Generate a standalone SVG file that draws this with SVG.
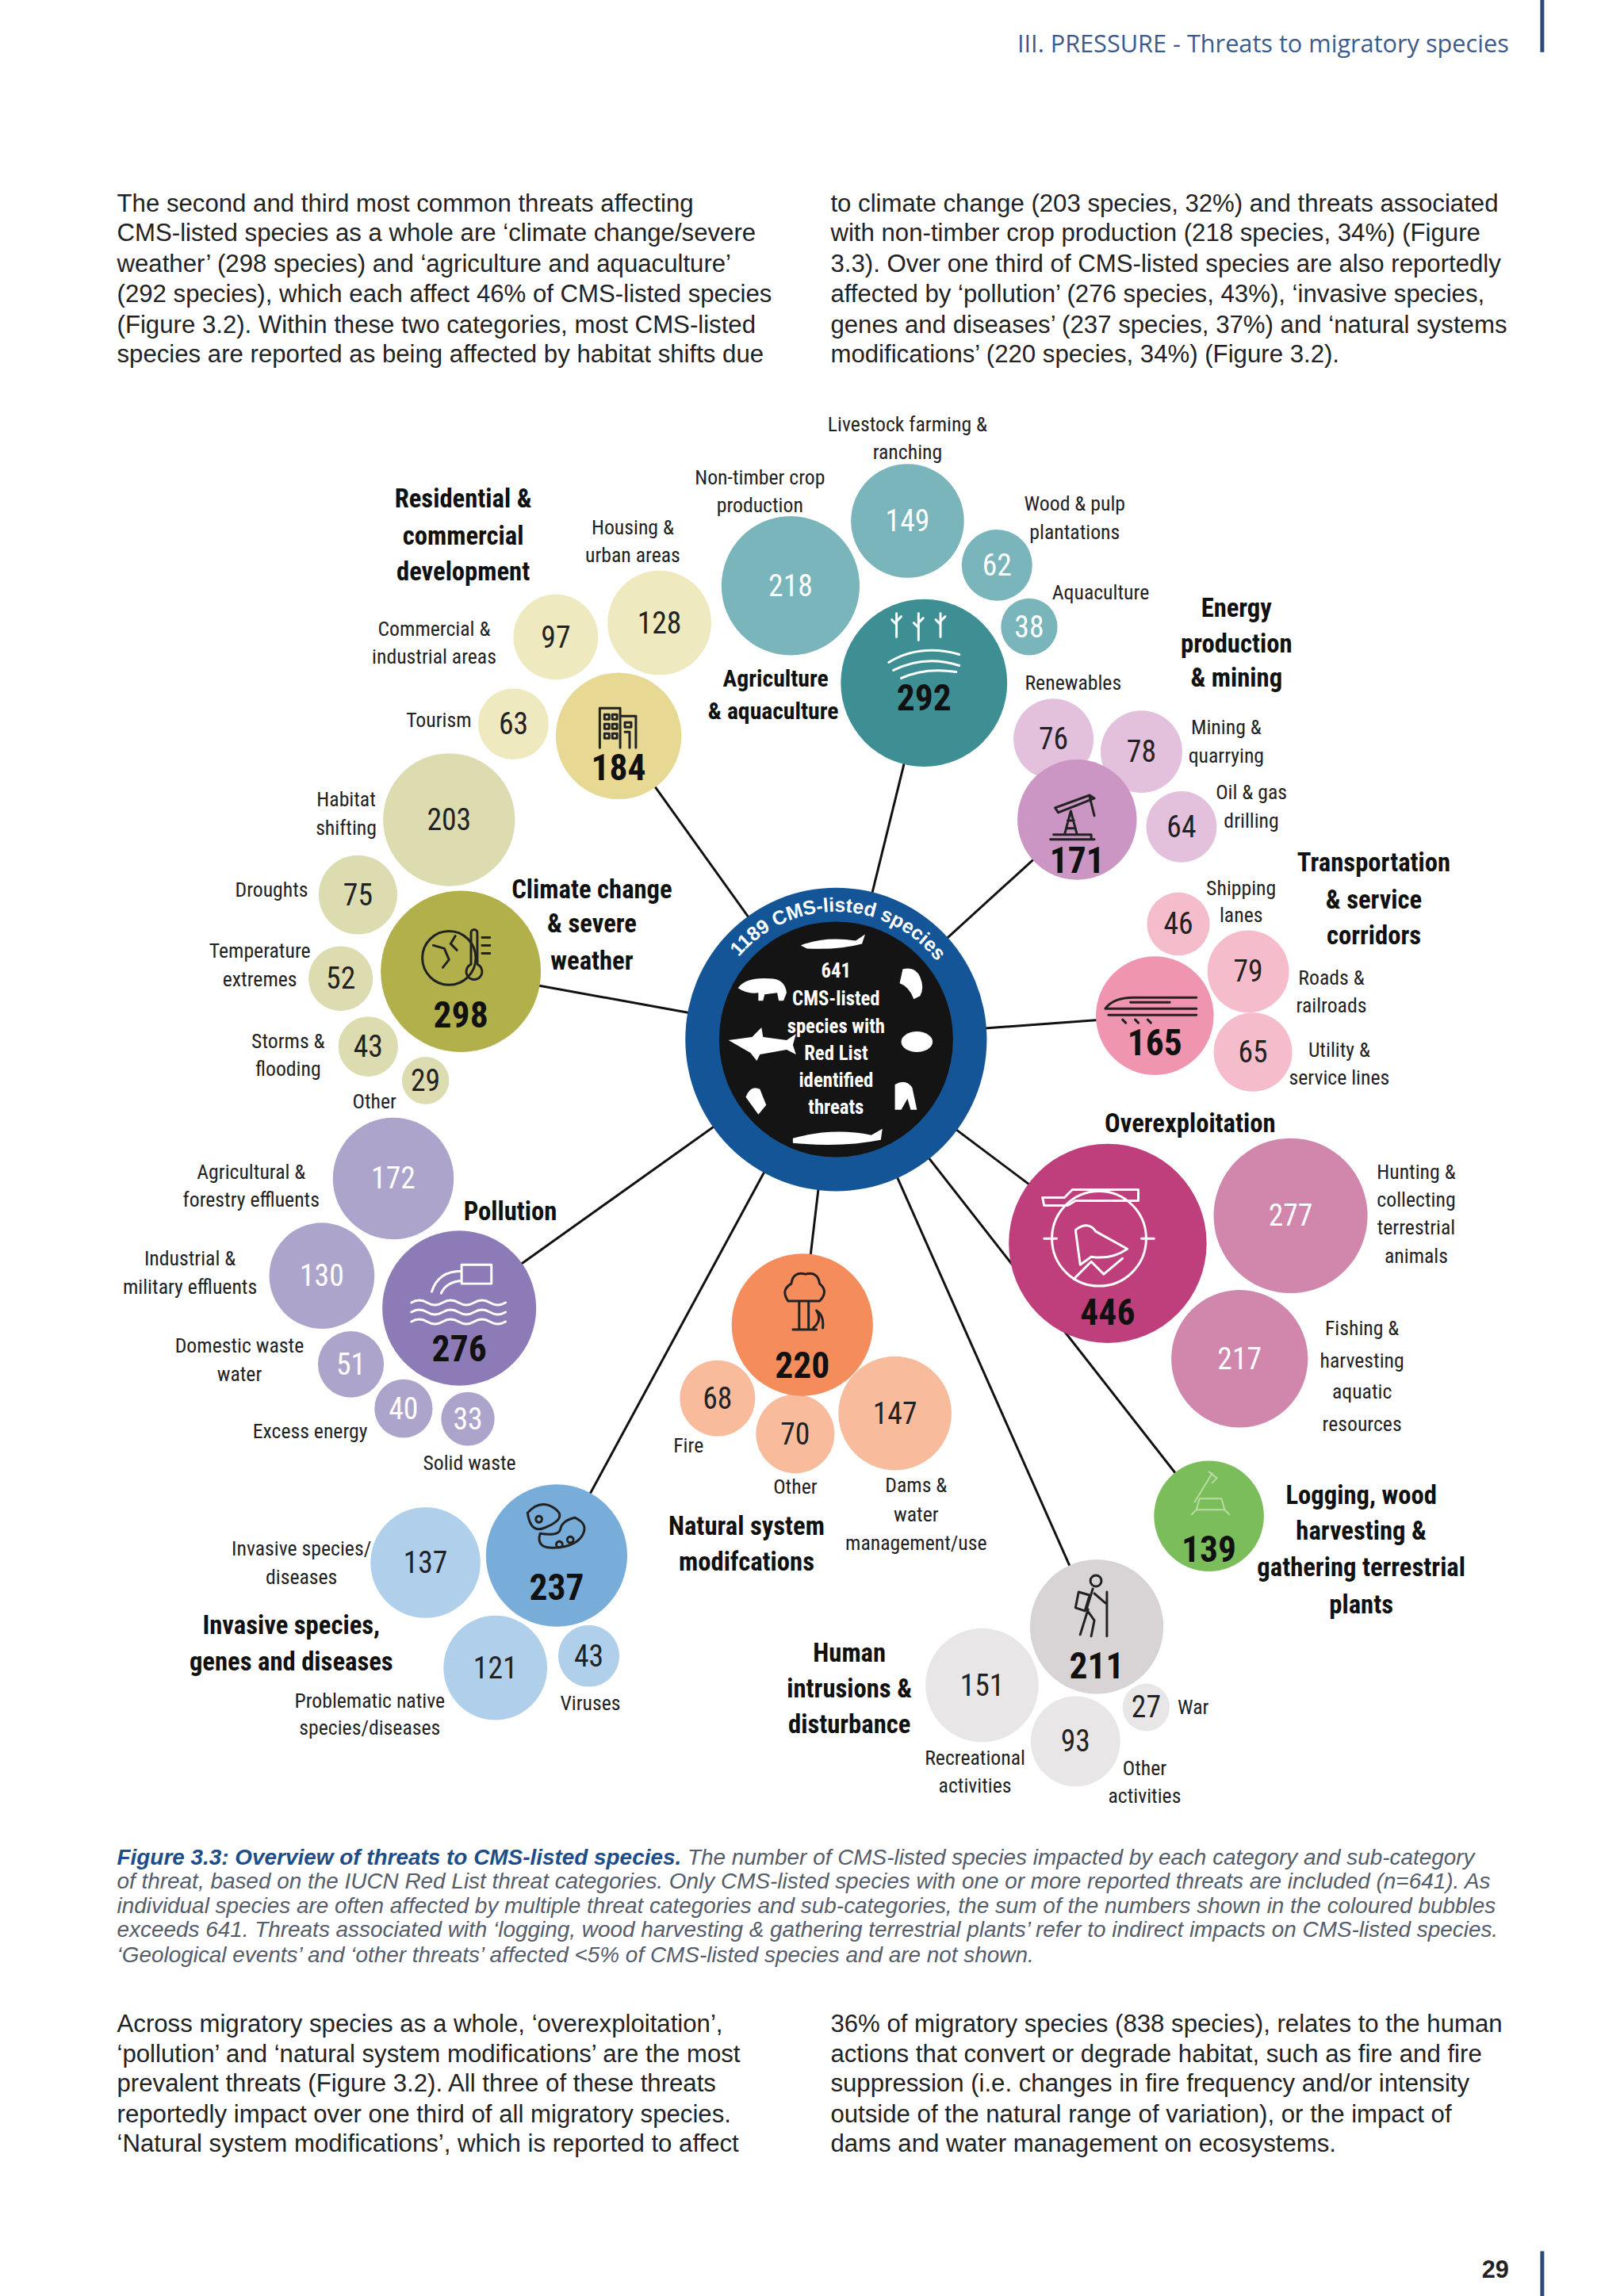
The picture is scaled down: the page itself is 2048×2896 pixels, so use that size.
<svg xmlns="http://www.w3.org/2000/svg" width="2048" height="2896" viewBox="0 0 2048 2896">
<style>
text{font-family:"Liberation Sans Narrow","Roboto Condensed",Roboto,"Liberation Sans",sans-serif}
.body{font-family:"Liberation Sans",Arial,sans-serif;font-size:31.5px;fill:#222}
.cap{font-family:"Liberation Sans",Arial,sans-serif;font-size:28.2px;font-style:italic;fill:#555d6b}
.t{font-size:33px;font-weight:bold;fill:#111;text-anchor:middle}
.l{font-size:26px;fill:#222;text-anchor:middle}
.n{font-size:38px;text-anchor:middle;fill:#222}
.w{fill:#fff}
.m{font-size:46px;font-weight:bold;text-anchor:middle;fill:#111}
.ic{fill:none;stroke:#222;stroke-width:3;stroke-linecap:round;stroke-linejoin:round}
.icw{fill:none;stroke:#fff;stroke-width:3;stroke-linecap:round;stroke-linejoin:round}
.con{stroke:#111;stroke-width:3;fill:none}
</style>
<rect width="2048" height="2896" fill="#fff"/>
<g transform="scale(0.99,0.997)">
<text x="1922" y="66" text-anchor="end" style="font-family:'Open Sans','Liberation Sans',sans-serif;font-size:31px;fill:#3d5a8c">III. PRESSURE - Threats to migratory species</text>
<rect x="1962" y="0" width="5" height="66" fill="#2c4a7c"/>
<text class="body"><tspan x="149" y="268">The second and third most common threats affecting</tspan><tspan x="149" y="305">CMS-listed species as a whole are ‘climate change/severe</tspan><tspan x="149" y="344">weather’ (298 species) and ‘agriculture and aquaculture’</tspan><tspan x="149" y="382">(292 species), which each affect 46% of CMS-listed species</tspan><tspan x="149" y="421">(Figure 3.2). Within these two categories, most CMS-listed</tspan><tspan x="149" y="458">species are reported as being affected by habitat shifts due</tspan></text>
<text class="body"><tspan x="1058" y="268">to climate change (203 species, 32%) and threats associated</tspan><tspan x="1058" y="305">with non-timber crop production (218 species, 34%) (Figure</tspan><tspan x="1058" y="344">3.3). Over one third of CMS-listed species are also reportedly</tspan><tspan x="1058" y="382">affected by ‘pollution’ (276 species, 43%), ‘invasive species,</tspan><tspan x="1058" y="421">genes and diseases’ (237 species, 37%) and ‘natural systems</tspan><tspan x="1058" y="458">modifications’ (220 species, 34%) (Figure 3.2).</tspan></text>

<g id="connectors" class="con">
<line x1="1065" y1="1315" x2="788" y2="931"/>
<line x1="1065" y1="1315" x2="1177" y2="864"/>
<line x1="1065" y1="1315" x2="1372" y2="1037"/>
<line x1="1065" y1="1315" x2="1471" y2="1285"/>
<line x1="1065" y1="1315" x2="1411" y2="1573"/>
<line x1="1065" y1="1315" x2="1540" y2="1918"/>
<line x1="1065" y1="1315" x2="1397" y2="2058"/>
<line x1="1065" y1="1315" x2="1022" y2="1676"/>
<line x1="1065" y1="1315" x2="709" y2="1968"/>
<line x1="1065" y1="1315" x2="585" y2="1655"/>
<line x1="1065" y1="1315" x2="587" y2="1229"/>
</g>

<g id="center">
<circle cx="1065" cy="1315" r="192" fill="#135596"/>
<circle cx="1065" cy="1315" r="149" fill="#141414"/>
<defs><path id="arc" d="M941 1211 A162 162 0 0 1 1205 1234"/></defs>
<text style="font-family:'Liberation Sans',Arial,sans-serif;font-size:25px;font-weight:bold;fill:#fff"><textPath href="#arc">1189 CMS-listed species</textPath></text>
<text style="font-size:25px;font-weight:bold;fill:#fff;text-anchor:middle"><tspan x="1065" y="1237">641</tspan><tspan x="1065" y="1272">CMS-listed</tspan><tspan x="1065" y="1307">species with</tspan><tspan x="1065" y="1341">Red List</tspan><tspan x="1065" y="1375">identified</tspan><tspan x="1065" y="1409">threats</tspan></text>
<g fill="#fff">
<path d="M1020 1196 q30 -12 70 -6 l12 -8 l-4 12 q-30 8 -70 6z"/>
<path d="M940 1250 q10 -14 40 -12 q20 0 22 18 l-4 10 h-6 l-2 -10 l-16 2 l-2 8 h-6 l0 -10 q-14 2 -26 -6z"/>
<path d="M1150 1226 q16 -4 22 10 q6 14 0 24 l-8 4 q-6 -16 -18 -20z"/>
<path d="M928 1316 l30 -4 l12 -12 l2 12 l30 4 l12 -8 l-4 14 l4 12 l-12 -6 l-34 6 l-4 8 l-8 -10z"/>
<ellipse cx="1168" cy="1318" rx="20" ry="13"/>
<path d="M950 1388 q6 -16 18 -10 l8 20 l-10 12z"/>
<path d="M1140 1372 q14 -8 22 4 l6 28 h-8 l-4 -14 l-8 14 h-8z"/>
<path d="M1010 1440 q50 -14 100 -4 l14 -8 l-2 14 q-50 10 -112 4z"/>
</g>
</g>

<g id="residential">
<circle cx="708" cy="806" r="54" fill="#efe9bf"/>
<circle cx="840" cy="788" r="66" fill="#efe9bf"/>
<circle cx="654" cy="916" r="45" fill="#efe9bf"/>
<circle cx="788" cy="931" r="80" fill="#e7d893"/>
<path class="ic" d="M764 946v-50h26v50M790 906h20v40M770 904h6v6h-6zM780 904h6v6h-6zM770 916h6v6h-6zM780 916h6v6h-6zM770 928h6v6h-6zM780 928h6v6h-6zM796 914h8v6h-8zM796 926h6v20"/>
<text class="m" x="788" y="987">184</text>
<text class="n" x="708" y="819">97</text><text class="n" x="840" y="801">128</text><text class="n" x="654" y="929">63</text>
<text class="t"><tspan x="590" y="642">Residential &amp;</tspan><tspan x="590" y="689">commercial</tspan><tspan x="590" y="734">development</tspan></text>
<text class="l"><tspan x="806" y="676">Housing &amp;</tspan><tspan x="806" y="711">urban areas</tspan></text>
<text class="l"><tspan x="553" y="804">Commercial &amp;</tspan><tspan x="553" y="840">industrial areas</tspan></text>
<text class="l" x="559" y="920">Tourism</text>
</g>

<g id="climate">
<circle cx="572" cy="1037" r="84" fill="#dcdcb0"/>
<circle cx="456" cy="1132" r="50" fill="#dcdcb0"/>
<circle cx="434" cy="1238" r="41" fill="#dcdcb0"/>
<circle cx="469" cy="1324" r="38" fill="#dcdcb0"/>
<circle cx="542" cy="1367" r="30" fill="#dcdcb0"/>
<circle cx="587" cy="1229" r="102" fill="#b2b04b"/>
<circle class="ic" cx="572" cy="1212" r="34"/>
<path class="ic" d="M600 1180v40a10 10 0 1 0 8 0v-40a4 4 0 0 0-8 0M614 1186h10M614 1196h10M614 1206h10M552 1196l14 4 6 14-8 10M580 1184l-6 10 8 8"/>
<text class="m" x="587" y="1300">298</text>
<text class="n" x="572" y="1050">203</text><text class="n" x="456" y="1145">75</text><text class="n" x="434" y="1251">52</text><text class="n" x="469" y="1337">43</text><text class="n" x="542" y="1380">29</text>
<text class="t"><tspan x="754" y="1136">Climate change</tspan><tspan x="754" y="1180">&amp; severe</tspan><tspan x="754" y="1227">weather</tspan></text>
<text class="l"><tspan x="441" y="1020">Habitat</tspan><tspan x="441" y="1056">shifting</tspan></text>
<text class="l" x="346" y="1134">Droughts</text>
<text class="l"><tspan x="331" y="1212">Temperature</tspan><tspan x="331" y="1248">extremes</tspan></text>
<text class="l"><tspan x="367" y="1326">Storms &amp;</tspan><tspan x="367" y="1361">flooding</tspan></text>
<text class="l" x="477" y="1402">Other</text>
</g>

<g id="agriculture">
<circle cx="1007" cy="741" r="88" fill="#79b5ba"/>
<circle cx="1156" cy="659" r="72" fill="#79b5ba"/>
<circle cx="1270" cy="715" r="45" fill="#79b5ba"/>
<circle cx="1311" cy="793" r="36" fill="#79b5ba"/>
<circle cx="1177" cy="864" r="106" fill="#3e8f94"/>
<path class="icw" d="M1132 838q40-24 90-10M1138 848q40-20 84-6M1148 858q30-14 70-8M1142 806v-30M1170 810v-34M1198 806v-30M1142 790l-6-6M1142 786l6-6M1170 794l-6-6M1170 788l6-6M1198 790l-6-6M1198 786l6-6"/>
<text class="m w" x="1177" y="899">292</text>
<text class="n w" x="1007" y="754">218</text><text class="n w" x="1156" y="672">149</text><text class="n w" x="1270" y="728">62</text><text class="n w" x="1311" y="806">38</text>
<text class="t" style="font-size:30px"><tspan x="988" y="869">Agriculture</tspan><tspan x="985" y="910">&amp; aquaculture</tspan></text>
<text class="l"><tspan x="968" y="613">Non-timber crop</tspan><tspan x="968" y="648">production</tspan></text>
<text class="l"><tspan x="1156" y="546">Livestock farming &amp;</tspan><tspan x="1156" y="581">ranching</tspan></text>
<text class="l"><tspan x="1369" y="646">Wood &amp; pulp</tspan><tspan x="1369" y="682">plantations</tspan></text>
<text class="l" x="1402" y="758">Aquaculture</text>
</g>

<g id="energy">
<circle cx="1342" cy="935" r="51" fill="#e3c0dc"/>
<circle cx="1454" cy="951" r="52" fill="#e3c0dc"/>
<circle cx="1505" cy="1046" r="45" fill="#e3c0dc"/>
<circle cx="1372" cy="1037" r="76" fill="#cc96c4"/>
<path class="ic" d="M1338 1062h56M1342 1056h48v6M1356 1056l8-30 8 30M1358 1048h12M1360 1038h8M1344 1022l44-16 6 4-46 18zM1388 1008l6 24"/>
<text class="m" x="1372" y="1104">171</text>
<text class="n" x="1342" y="948">76</text><text class="n" x="1454" y="964">78</text><text class="n" x="1505" y="1059">64</text>
<text class="t"><tspan x="1575" y="780">Energy</tspan><tspan x="1575" y="825">production</tspan><tspan x="1575" y="869">&amp; mining</tspan></text>
<text class="l" x="1367" y="873">Renewables</text>
<text class="l"><tspan x="1562" y="929">Mining &amp;</tspan><tspan x="1562" y="965">quarrying</tspan></text>
<text class="l"><tspan x="1594" y="1011">Oil &amp; gas</tspan><tspan x="1594" y="1047">drilling</tspan></text>
</g>

<g id="transport">
<circle cx="1501" cy="1169" r="40" fill="#f5bccc"/>
<circle cx="1590" cy="1229" r="52" fill="#f5bccc"/>
<circle cx="1596" cy="1331" r="50" fill="#f5bccc"/>
<circle cx="1471" cy="1285" r="75" fill="#ef95b0"/>
<path class="ic" d="M1408 1276q10-14 36-14h80M1408 1276h116M1412 1284h112M1440 1268h50M1430 1290l4 4M1446 1290l4 4M1462 1290l4 4"/>
<text class="m" x="1471" y="1335">165</text>
<text class="n" x="1501" y="1182">46</text><text class="n" x="1590" y="1242">79</text><text class="n" x="1596" y="1344">65</text>
<text class="t"><tspan x="1750" y="1102">Transportation</tspan><tspan x="1750" y="1149">&amp; service</tspan><tspan x="1750" y="1195">corridors</tspan></text>
<text class="l"><tspan x="1581" y="1132">Shipping</tspan><tspan x="1581" y="1167">lanes</tspan></text>
<text class="l"><tspan x="1696" y="1246">Roads &amp;</tspan><tspan x="1696" y="1281">railroads</tspan></text>
<text class="l"><tspan x="1706" y="1337">Utility &amp;</tspan><tspan x="1706" y="1372">service lines</tspan></text>
</g>

<g id="overexploitation">
<circle cx="1644" cy="1538" r="98" fill="#d186ac"/>
<circle cx="1579" cy="1719" r="87" fill="#d186ac"/>
<circle cx="1411" cy="1573" r="126" fill="#bf3f7c"/>
<circle class="icw" cx="1400" cy="1567" r="60"/>
<path class="icw" d="M1328 1515h28l10-10h84v14h-80l-10 6h-30zM1330 1567h16M1454 1567h16M1368 1618l22-22 16 16 24-20M1370 1556q16-12 26 2l40 22q-20 14-46 10l-14 10z"/>
<text class="m w" x="1411" y="1676">446</text>
<text class="n w" x="1644" y="1551">277</text><text class="n w" x="1579" y="1732">217</text>
<text class="t" x="1516" y="1432">Overexploitation</text>
<text class="l"><tspan x="1804" y="1491">Hunting &amp;</tspan><tspan x="1804" y="1527">collecting</tspan><tspan x="1804" y="1562">terrestrial</tspan><tspan x="1804" y="1598">animals</tspan></text>
<text class="l"><tspan x="1735" y="1689">Fishing &amp;</tspan><tspan x="1735" y="1730">harvesting</tspan><tspan x="1735" y="1769">aquatic</tspan><tspan x="1735" y="1810">resources</tspan></text>
</g>

<g id="logging">
<circle cx="1540" cy="1918" r="70" fill="#7cbd5b"/>
<path class="icw" style="stroke:#b8dca6;stroke-width:2" d="M1522 1900l22-36M1540 1862l10 8-6 6M1528 1896h28l4 14h-36zM1524 1910l-6 6M1560 1910l6 6"/>
<text class="m w" x="1540" y="1976">139</text>
<text class="t"><tspan x="1734" y="1903">Logging, wood</tspan><tspan x="1734" y="1948">harvesting &amp;</tspan><tspan x="1734" y="1994">gathering terrestrial</tspan><tspan x="1734" y="2041">plants</tspan></text>
</g>

<g id="human">
<circle cx="1251" cy="2132" r="72" fill="#e8e6e6"/>
<circle cx="1370" cy="2203" r="57" fill="#e8e6e6"/>
<circle cx="1460" cy="2160" r="30" fill="#e8e6e6"/>
<circle cx="1397" cy="2058" r="85" fill="#d8d3d4"/>
<circle class="ic" cx="1396" cy="2000" r="7"/>
<path class="ic" d="M1392 2010l-8 26 10 14-4 20M1386 2036l-10 32M1394 2016l14 12M1410 2014v56M1374 2014l14 4-6 20-12-4z"/>
<text class="m" x="1397" y="2123">211</text>
<text class="n" x="1251" y="2145">151</text><text class="n" x="1370" y="2216">93</text><text class="n" x="1460" y="2173">27</text>
<text class="t"><tspan x="1082" y="2102">Human</tspan><tspan x="1082" y="2147">intrusions &amp;</tspan><tspan x="1082" y="2193">disturbance</tspan></text>
<text class="l"><tspan x="1242" y="2233">Recreational</tspan><tspan x="1242" y="2268">activities</tspan></text>
<text class="l"><tspan x="1458" y="2246">Other</tspan><tspan x="1458" y="2281">activities</tspan></text>
<text class="l" x="1500" y="2169" style="text-anchor:start">War</text>
</g>

<g id="natural">
<circle cx="914" cy="1769" r="48" fill="#f8bc9c"/>
<circle cx="1140" cy="1788" r="72" fill="#f8bc9c"/>
<circle cx="1013" cy="1814" r="50" fill="#f8bc9c"/>
<circle cx="1022" cy="1676" r="90" fill="#f58c5c"/>
<path class="ic" d="M1004 1646q-10-14 4-22q2-16 18-12q16-4 18 12q12 10 0 22zM1018 1646v36M1030 1646v36M1010 1682h30M1036 1680q12-10 4-22q10 6 8 22"/>
<text class="m" x="1022" y="1743">220</text>
<text class="n" x="914" y="1782">68</text><text class="n" x="1140" y="1801">147</text><text class="n" x="1013" y="1827">70</text>
<text class="t"><tspan x="951" y="1942">Natural system</tspan><tspan x="951" y="1987">modifcations</tspan></text>
<text class="l" x="877" y="1838">Fire</text>
<text class="l" x="1013" y="1890">Other</text>
<text class="l"><tspan x="1167" y="1888">Dams &amp;</tspan><tspan x="1167" y="1925">water</tspan><tspan x="1167" y="1961">management/use</tspan></text>
</g>

<g id="pollution">
<circle cx="501" cy="1491" r="77" fill="#ada4cc"/>
<circle cx="410" cy="1614" r="67" fill="#ada4cc"/>
<circle cx="447" cy="1726" r="42" fill="#ada4cc"/>
<circle cx="514" cy="1782" r="37" fill="#ada4cc"/>
<circle cx="596" cy="1795" r="34" fill="#ada4cc"/>
<circle cx="585" cy="1655" r="98" fill="#8d7bb8"/>
<path class="icw" d="M588 1600h38v24h-38zM588 1608q-30 0-38 26M588 1620q-20 2-26 16M524 1648q10-6 20 0t20 0t20 0t20 0t20 0t20 0M524 1660q10-6 20 0t20 0t20 0t20 0t20 0t20 0M524 1672q10-6 20 0t20 0t20 0t20 0t20 0t20 0"/>
<text class="m w" x="585" y="1722">276</text>
<text class="n w" x="501" y="1504">172</text><text class="n w" x="410" y="1627">130</text><text class="n w" x="447" y="1739">51</text><text class="n w" x="514" y="1795">40</text><text class="n w" x="596" y="1808">33</text>
<text class="t" x="650" y="1544">Pollution</text>
<text class="l"><tspan x="320" y="1491">Agricultural &amp;</tspan><tspan x="320" y="1527">forestry effluents</tspan></text>
<text class="l"><tspan x="242" y="1601">Industrial &amp;</tspan><tspan x="242" y="1637">military effluents</tspan></text>
<text class="l"><tspan x="305" y="1711">Domestic waste</tspan><tspan x="305" y="1747">water</tspan></text>
<text class="l" x="395" y="1819">Excess energy</text>
<text class="l" x="598" y="1860">Solid waste</text>
</g>

<g id="invasive">
<circle cx="542" cy="1977" r="70" fill="#b0cfea"/>
<circle cx="631" cy="2110" r="66" fill="#b0cfea"/>
<circle cx="750" cy="2095" r="39" fill="#b0cfea"/>
<circle cx="709" cy="1968" r="90" fill="#78acd9"/>
<path class="ic" d="M672 1914q16-18 34-6t-10 24q-20 10-24-18zM688 1940q-6 20 20 18t34-16t-10-22q-16 4-18 14t-26 6zM712 1950a4 4 0 1 0 1 0M726 1944a4 4 0 1 0 1 0M686 1918a4 4 0 1 0 1 0"/>
<text class="m" x="709" y="2024">237</text>
<text class="n" x="542" y="1990">137</text><text class="n" x="631" y="2123">121</text><text class="n" x="750" y="2108">43</text>
<text class="t"><tspan x="371" y="2067">Invasive species,</tspan><tspan x="371" y="2113">genes and diseases</tspan></text>
<text class="l"><tspan x="384" y="1968">Invasive species/</tspan><tspan x="384" y="2004">diseases</tspan></text>
<text class="l"><tspan x="471" y="2160">Problematic native</tspan><tspan x="471" y="2195">species/diseases</tspan></text>
<text class="l" x="752" y="2164">Viruses</text>
</g>

<text class="cap"><tspan x="149" y="2359"><tspan style="font-weight:bold;fill:#1d4e89">Figure 3.3: Overview of threats to CMS-listed species.</tspan> The number of CMS-listed species impacted by each category and sub-category</tspan><tspan x="149" y="2389">of threat, based on the IUCN Red List threat categories. Only CMS-listed species with one or more reported threats are included (n=641). As</tspan><tspan x="149" y="2420">individual species are often affected by multiple threat categories and sub-categories, the sum of the numbers shown in the coloured bubbles</tspan><tspan x="149" y="2450">exceeds 641. Threats associated with ‘logging, wood harvesting &amp; gathering terrestrial plants’ refer to indirect impacts on CMS-listed species.</tspan><tspan x="149" y="2482">‘Geological events’ and ‘other threats’ affected &lt;5% of CMS-listed species and are not shown.</tspan></text>

<text class="body"><tspan x="149" y="2571">Across migratory species as a whole, ‘overexploitation’,</tspan><tspan x="149" y="2609">‘pollution’ and ‘natural system modifications’ are the most</tspan><tspan x="149" y="2646">prevalent threats (Figure 3.2). All three of these threats</tspan><tspan x="149" y="2685">reportedly impact over one third of all migratory species.</tspan><tspan x="149" y="2722">‘Natural system modifications’, which is reported to affect</tspan></text>
<text class="body"><tspan x="1058" y="2571">36% of migratory species (838 species), relates to the human</tspan><tspan x="1058" y="2609">actions that convert or degrade habitat, such as fire and fire</tspan><tspan x="1058" y="2646">suppression (i.e. changes in fire frequency and/or intensity</tspan><tspan x="1058" y="2685">outside of the natural range of variation), or the impact of</tspan><tspan x="1058" y="2722">dams and water management on ecosystems.</tspan></text>
<text x="1922" y="2882" text-anchor="end" style="font-family:'Liberation Sans',Arial,sans-serif;font-size:31px;font-weight:bold;fill:#222">29</text>
<rect x="1962" y="2848" width="5" height="60" fill="#2c4a7c"/>
</g>
</svg>
